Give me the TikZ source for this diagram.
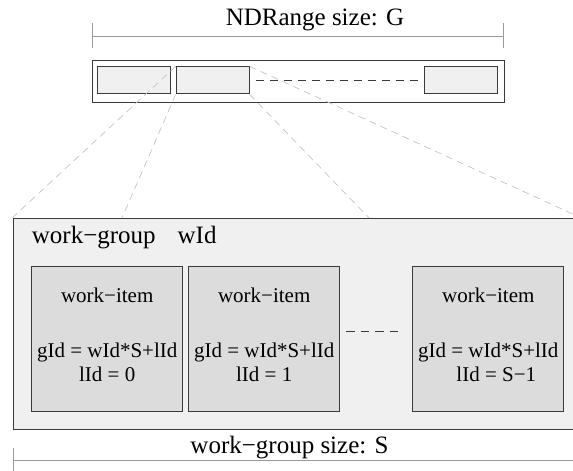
\documentclass[tikz,border=0pt]{standalone}
\usepackage{fontspec}
\setmainfont{Liberation Serif}
\usetikzlibrary{positioning, calc}

\definecolor{edgegray}{HTML}{3A3A3A}
\definecolor{cellgray}{HTML}{F0F0F0}
\definecolor{itemgray}{HTML}{DCDCDC}
\definecolor{projgray}{HTML}{C4C4C4}
\definecolor{dimgray}{HTML}{9A9A9A}

\begin{document}
\begin{tikzpicture}[x=1pt,y=-1pt,
    outline/.style={draw=edgegray,line width=1pt,inner sep=0pt},
    barcell/.style={outline,fill=cellgray,minimum width=73pt,minimum height=27pt},
    itembox/.style={outline,fill=itemgray,minimum width=151pt,minimum height=145pt},
    projline/.style={draw=projgray,line width=0.7pt,dash pattern=on 7pt off 5pt},
    dimline/.style={draw=dimgray,line width=0.8pt},
    bigtext/.style={inner sep=0pt,font=\fontsize{25}{30}\selectfont},
    smalltext/.style={inner sep=0pt,font=\fontsize{21}{25}\selectfont}]
\useasboundingbox (0,0) rectangle (573,471);
\clip (0,0) rectangle (573,471);

% NDRange bar
\node[bigtext,anchor=base] (ndlabel) at (315,25) {NDRange size: G};
\coordinate (nd1) at (92,36);  \coordinate (nd2) at (503,36);
\draw[dimline] (nd1) -- (nd2)
    ([yshift=13pt]nd1) -- ([yshift=-12pt]nd1)
    ([yshift=13pt]nd2) -- ([yshift=-12pt]nd2);
\node[outline,fill=white,minimum width=412pt,minimum height=42pt] (bar) at (298,81.7) {};
\node[barcell] (g1) at (134.2,80.4) {};
\node[barcell] (g2) at (212.7,80.4) {};
\node[barcell] (g3) at (461,80.4) {};
\draw[edgegray,line width=0.9pt,dash pattern=on 8pt off 6pt,shorten <=6pt,shorten >=6.5pt]
    (g2.east) -- (g3.west);

% work-group
\node[outline,fill=cellgray,minimum width=567pt,minimum height=211.5pt] (wgroup) at (296.5,323.8) {};
\node[bigtext,anchor=base west] (wglabel) at (31.7,243) {work−group\hspace{22pt}wId};
\node[itembox] (w1) at (107.2,339.2) {};
\node[itembox] (w2) at (264.2,339.2) {};
\node[itembox] (w3) at (488.3,339.2) {};
\foreach \n/\lid/\dx in {1/0/0,2/1/0,3/S−1/8}{
  \node[smalltext,anchor=base] (t\n) at ($(w\n.center)+(0,-37)$) {work−item};
  \node[smalltext,anchor=base] (g\n id) at ($(w\n.center)+(0,18)$) {gId = wId*S+lId};
  \node[smalltext,anchor=base] (l\n id) at ($(w\n.center)+(\dx,42.5)$) {lId = \lid};
}
\draw[edgegray,line width=0.9pt,dash pattern=on 8.5pt off 6pt,shorten <=6pt,shorten >=10.5pt]
    ([yshift=7.5pt]w2.east) -- ([yshift=7.5pt]w3.west);

% projection lines
\coordinate (p2) at (122,218);
\coordinate (p3) at (369,218);
\path[projline]
    (g2.north west) edge (wgroup.north west)
    (g2.south west) edge (p2)
    (g2.south east) edge (p3)
    (g2.north east) edge (wgroup.north east);

% work-group size
\node[bigtext,anchor=base] (wslabel) at (289.5,453) {work−group size: S};
\coordinate (ws1) at (13,460);  \coordinate (ws2) at (580,460);
\draw[dimline] (ws1) -- (ws2)
    ([yshift=12pt]ws1) -- ([yshift=-12pt]ws1);
\end{tikzpicture}
\end{document}
